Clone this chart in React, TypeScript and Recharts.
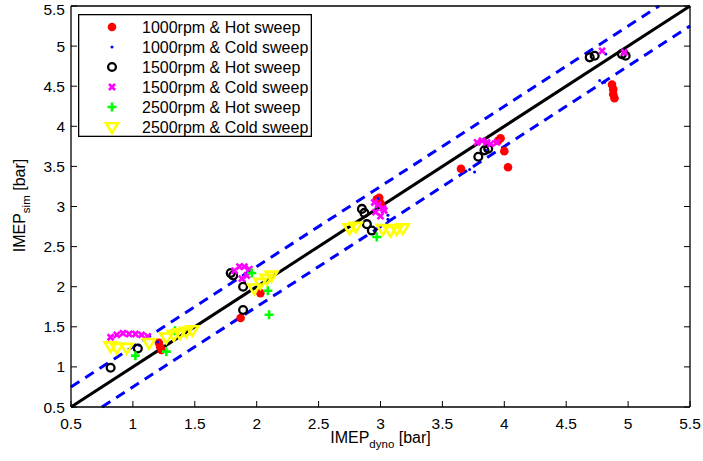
import React from "react";
import { Legend, ReferenceLine, Scatter, ScatterChart, XAxis, YAxis } from "recharts";

// 軸目盛り（x / y 共通）
const axisTicks = [0.5, 1, 1.5, 2, 2.5, 3, 3.5, 4, 4.5, 5, 5.5];
const axisDomain: [number, number] = [0.5, 5.5];

// [IMEP_dyno, IMEP_sim] の組
const hot1000: [number, number][] = [
  [1.21, 1.3], [1.22, 1.25], [1.23, 1.21],
  [1.87, 1.61], [2.03, 1.92],
  [2.97, 3.09], [2.99, 3.11], [3.0, 3.04],
  [3.65, 3.47], [3.95, 3.82], [3.97, 3.85], [4.0, 3.69], [4.03, 3.49],
  [4.87, 4.52], [4.88, 4.46], [4.88, 4.4], [4.89, 4.35],
];
const cold1000: [number, number][] = [
  [1.05, 1.27], [1.2, 1.31], [1.9, 2.06],
  [2.98, 3.1], [3.06, 2.89], [3.06, 2.84], [3.05, 2.79],
  [3.72, 3.46], [3.76, 3.43], [3.85, 3.7],
  [4.77, 4.57], [4.81, 4.55], [4.82, 4.9],
];
const hot1500: [number, number][] = [
  [0.82, 0.99], [1.04, 1.23],
  [1.79, 2.17], [1.81, 2.14], [1.89, 2.0], [1.89, 1.71],
  [2.85, 2.97], [2.87, 2.92], [2.89, 2.78], [2.93, 2.7],
  [3.79, 3.62], [3.84, 3.7], [3.87, 3.72],
  [4.69, 4.86], [4.73, 4.88], [4.95, 4.9], [4.98, 4.88],
];
const cold1500: [number, number][] = [
  [0.82, 1.37], [0.87, 1.4], [0.92, 1.42], [0.97, 1.41], [1.02, 1.41], [1.07, 1.4], [1.12, 1.38],
  [1.82, 2.2], [1.86, 2.25], [1.9, 2.25], [1.94, 2.22], [1.92, 2.14], [1.88, 2.1],
  [2.95, 3.05], [2.98, 3.02], [3.02, 2.98], [2.96, 2.93], [3.0, 2.88], [3.03, 2.95],
  [3.78, 3.8], [3.82, 3.82], [3.86, 3.8], [3.89, 3.78], [3.94, 3.8],
  [4.79, 4.94], [4.97, 4.92],
];
const hot2500: [number, number][] = [
  [1.02, 1.14], [1.27, 1.19], [1.34, 1.45],
  [1.96, 2.17], [2.09, 1.95], [2.1, 1.65],
  [2.97, 2.62],
];
const cold2500: [number, number][] = [
  [0.82, 1.26], [0.87, 1.24], [0.95, 1.24], [1.13, 1.3], [1.27, 1.37],
  [1.33, 1.4], [1.38, 1.42], [1.43, 1.44], [1.48, 1.46],
  [1.98, 1.98], [2.03, 2.05], [2.08, 2.1], [2.12, 2.14],
  [2.75, 2.73], [2.8, 2.75], [3.02, 2.72], [3.08, 2.7], [3.13, 2.72], [3.18, 2.73],
];

// y = x と ±0.25 bar の帯
const parityLine = [{ x: 0.5, y: 0.5 }, { x: 5.5, y: 5.5 }];
const upperBand = [{ x: 0.5, y: 0.75 }, { x: 5.25, y: 5.5 }];
const lowerBand = [{ x: 0.75, y: 0.5 }, { x: 5.5, y: 5.25 }];

type MarkerKind = "dot" | "point" | "ring" | "cross" | "plus" | "tri";

const series: { name: string; kind: MarkerKind; data: [number, number][] }[] = [
  { name: "1000rpm & Hot sweep", kind: "dot", data: hot1000 },
  { name: "1000rpm & Cold sweep", kind: "point", data: cold1000 },
  { name: "1500rpm & Hot sweep", kind: "ring", data: hot1500 },
  { name: "1500rpm & Cold sweep", kind: "cross", data: cold1500 },
  { name: "2500rpm & Hot sweep", kind: "plus", data: hot2500 },
  { name: "2500rpm & Cold sweep", kind: "tri", data: cold2500 },
];

const FONT = '"Liberation Sans", Arial, Helvetica, sans-serif';
// 内向き目盛り（MATLAB 風）は負の tickSize で描く
const INNER_TICK = -6;
const axisStroke = { stroke: "#000", strokeWidth: 1.3 };
const tickStroke = { stroke: "#000", strokeWidth: 1 };

function Marker({ kind, cx, cy }: { kind: MarkerKind; cx: number; cy: number }) {
  switch (kind) {
    case "dot":
      return <circle cx={cx} cy={cy} r={4.3} fill="#ff0000" />;
    case "point":
      return <circle cx={cx} cy={cy} r={1.5} fill="#0000ff" />;
    case "ring":
      return <circle cx={cx} cy={cy} r={3.9} fill="none" stroke="#000" strokeWidth={2.3} />;
    case "cross":
      return (
        <path
          d={`M${cx - 3} ${cy - 3}L${cx + 3} ${cy + 3}M${cx - 3} ${cy + 3}L${cx + 3} ${cy - 3}`}
          stroke="#ff00ff"
          strokeWidth={2.6}
        />
      );
    case "plus":
      return (
        <path
          d={`M${cx - 4.5} ${cy}L${cx + 4.5} ${cy}M${cx} ${cy - 4.5}L${cx} ${cy + 4.5}`}
          stroke="#00ff00"
          strokeWidth={2.6}
        />
      );
    case "tri":
      return (
        <path
          d={`M${cx - 6} ${cy - 3.8}L${cx + 6} ${cy - 3.8}L${cx} ${cy + 6}Z`}
          fill="none"
          stroke="#ffff00"
          strokeWidth={2.6}
          strokeLinejoin="miter"
        />
      );
  }
}

const BottomTick = (p: any) => (
  <text x={p.x} y={p.y} dy="0.71em" textAnchor="middle" fontSize={15.5} fontFamily={FONT} fill="#000">
    {p.payload.value}
  </text>
);
const LeftTick = (p: any) => (
  <text x={p.x} y={p.y} dy="0.36em" textAnchor="end" fontSize={15.5} fontFamily={FONT} fill="#000">
    {p.payload.value}
  </text>
);
const NoLabel = () => <g />;

const XTitle = (p: any) => {
  const vb = p.viewBox;
  return (
    <text x={vb.x + vb.width / 2} y={vb.y + 36} textAnchor="middle" fontSize={16} fontFamily={FONT} fill="#000">
      IMEP
      <tspan fontSize={11.5} dy={5}>dyno</tspan>
      <tspan dy={-5}> [bar]</tspan>
    </text>
  );
};
const YTitle = (p: any) => {
  const vb = p.viewBox;
  const cx = vb.x + 25;
  const cy = vb.y + vb.height / 2 - 1;
  return (
    <text x={cx} y={cy} transform={`rotate(-90 ${cx} ${cy})`} textAnchor="middle" fontSize={16} fontFamily={FONT} fill="#000">
      IMEP
      <tspan fontSize={11.5} dy={5}>sim</tspan>
      <tspan dy={-5}> [bar]</tspan>
    </text>
  );
};

const LegendBox = () => (
  <svg width={234} height={123} style={{ display: "block" }}>
    <rect x={0.65} y={0.65} width={232.7} height={121.7} fill="#fff" stroke="#000" strokeWidth={1.3} />
    {series.map((s, i) => (
      <g key={s.name}>
        <Marker kind={s.kind} cx={34} cy={13 + i * 20} />
        <text x={64} y={13 + i * 20} dy="0.36em" fontSize={16} fontFamily={FONT} fill="#000">
          {s.name}
        </text>
      </g>
    ))}
  </svg>
);

export default function App() {
  return (
    <div style={{ position: "absolute", left: 0, top: 0, background: "#fff" }}>
      <ScatterChart width={703} height={461} margin={{ top: 5, right: 12, bottom: 0, left: 0 }}>
        <XAxis
          xAxisId="main"
          dataKey="x"
          type="number"
          domain={axisDomain}
          ticks={axisTicks}
          allowDataOverflow
          height={54}
          tickSize={INNER_TICK}
          tickMargin={17}
          tickLine={tickStroke}
          tick={BottomTick}
          axisLine={axisStroke}
          label={<XTitle />}
        />
        <XAxis
          xAxisId="top"
          orientation="top"
          type="number"
          domain={axisDomain}
          ticks={axisTicks}
          allowDataOverflow
          height={1}
          tickSize={INNER_TICK}
          tickMargin={0}
          tickLine={tickStroke}
          tick={NoLabel}
          axisLine={axisStroke}
        />
        <YAxis
          yAxisId="main"
          dataKey="y"
          type="number"
          domain={axisDomain}
          ticks={axisTicks}
          allowDataOverflow
          width={71}
          tickSize={INNER_TICK}
          tickMargin={12}
          tickLine={tickStroke}
          tick={LeftTick}
          axisLine={axisStroke}
          label={<YTitle />}
        />
        <YAxis
          yAxisId="right"
          orientation="right"
          type="number"
          domain={axisDomain}
          ticks={axisTicks}
          allowDataOverflow
          width={1}
          tickSize={INNER_TICK}
          tickMargin={0}
          tickLine={tickStroke}
          tick={NoLabel}
          axisLine={axisStroke}
        />
        {series.map((s) => (
          <Scatter
            key={s.name}
            name={s.name}
            xAxisId="main"
            yAxisId="main"
            data={s.data.map(([x, y]) => ({ x, y }))}
            isAnimationActive={false}
            shape={(p: any) => <Marker kind={s.kind} cx={p.cx} cy={p.cy} />}
          />
        ))}
        <ReferenceLine xAxisId="main" yAxisId="main" segment={upperBand} stroke="#0000ff" strokeWidth={3} strokeDasharray="10 7" />
        <ReferenceLine xAxisId="main" yAxisId="main" segment={lowerBand} stroke="#0000ff" strokeWidth={3} strokeDasharray="10 7" />
        <ReferenceLine xAxisId="main" yAxisId="main" segment={parityLine} stroke="#000" strokeWidth={3} />
        <Legend
          layout="vertical"
          align="center"
          verticalAlign="middle"
          wrapperStyle={{ left: 78, top: 14, width: 234, height: 123 }}
          content={() => <LegendBox />}
        />
      </ScatterChart>
    </div>
  );
}
